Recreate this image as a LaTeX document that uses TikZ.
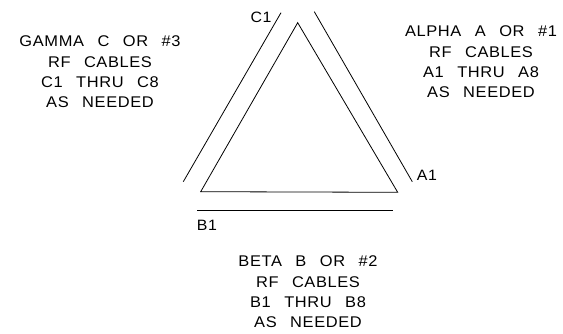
\documentclass[tikz,border=0pt]{standalone}
\usepackage{fontspec}
\setmainfont{Liberation Sans}[FakeStretch=1.06, WordSpace=2.6, LetterSpace=4]
\tikzset{
	cablelabel/.style={align=center, inner sep=0pt, font=\fontsize{15.5}{20.3}\selectfont},
	endlabel/.style={inner sep=0pt, font=\fontsize{15}{17}\selectfont},
}
\begin{document}
\begin{tikzpicture}[x=1pt, y=-1pt, line width=0.8pt, color=black]
	\useasboundingbox (0,0) rectangle (563,334);
	%triangle
	\coordinate (top) at (297.7, 22.7);
	\coordinate (left) at (200.7, 191.7);
	\coordinate (right) at (397.7, 192.3);
	\draw (top) -- (right) -- (left) -- cycle;
	
	%cables
	\coordinate (c-start) at (183.3, 181.7);
	\coordinate (c-end) at (281, 12.7);
	\coordinate (a-start) at (314.3, 11.7);
	\coordinate (a-end) at (412.3, 181.7);
	\coordinate (b-start) at (197.3, 210.7);
	\coordinate (b-end) at (392.7, 210.7);
	\draw (c-start) -- (c-end);
	\draw (a-start) -- (a-end);
	\draw (b-start) -- (b-end);
	
	\node[endlabel] (c1) at (261, 17){C1};
	\node[endlabel] (a1) at (427, 175){A1};
	\node[endlabel] (b1) at (207, 225){B1};
	
	\node[cablelabel] (gamma) at (100, 72){GAMMA C OR \#3\\RF CABLES\\C1 THRU C8\\AS NEEDED};
	\node[cablelabel] (alpha) at (481, 62){ALPHA A OR \#1\\RF CABLES\\A1 THRU A8\\AS NEEDED};
	\node[cablelabel] (beta) at (308, 292){BETA B OR \#2\\RF CABLES\\B1 THRU B8\\AS NEEDED};
\end{tikzpicture}
\end{document}
